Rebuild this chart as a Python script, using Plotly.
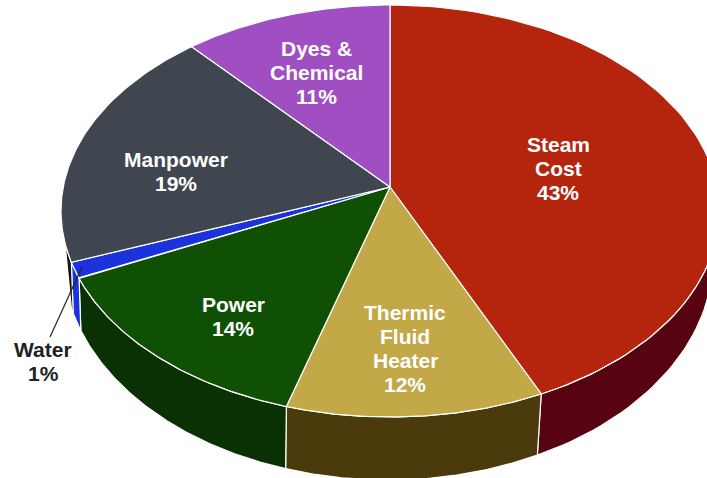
import math
import plotly.graph_objects as go

# Data
categories = ["Steam Cost", "Thermic Fluid Heater", "Power", "Water", "Manpower", "Dyes & Chemical"]
shares = [42.4, 12.7, 14.6, 1.3, 18.7, 10.3]
label_texts = [["Steam", "Cost", "43%"], ["Thermic", "Fluid", "Heater", "12%"], ["Power", "14%"],
               ["Water", "1%"], ["Manpower", "19%"], ["Dyes &", "Chemical", "11%"]]
top_colors = ["#B5240D", "#C2A847", "#105005", "#1C33DB", "#3F4650", "#9F4FC2"]
side_colors = ["#570312", "#4A3A0C", "#0A3104", "#1C33DB", "#111111", None]
label_colors = ["white", "white", "white", "#222222", "white", "white"]

# Projection of the tilted pie onto the canvas
W, H = 707, 478
APEX = (390, 187)
TOP = dict(cx=390, cy=211, rx=329, ry=206)
BOT = dict(cx=388, cy=258, rx=325, ry=222)
LABEL_POS = [(558, 168), (405, 348), (233, 316), (43, 361), (176, 171), (316, 72)]
LINE_STEP = 24
LEADER = ([82, 50], [267, 337])
BACK_TOP_LIMIT = 261   # last visible angle of the rim side
BACK_BOT_LIMIT = 257


def rim(e, t):
    r = math.radians(t)
    return e["cx"] + e["rx"] * math.sin(r), e["cy"] - e["ry"] * math.cos(r)


def arc(e, a, b, n=90):
    pts = [rim(e, a + (b - a) * i / n) for i in range(n + 1)]
    return [p[0] for p in pts], [p[1] for p in pts]


edges = [0]
for s in shares:
    edges.append(edges[-1] + s * 3.6)

fig = go.Figure()

# Side walls
for i in range(5):
    a, b = edges[i], edges[i + 1]
    b_top = min(b, BACK_TOP_LIMIT) if i == 4 else b
    b_bot = min(b, BACK_BOT_LIMIT) if i == 4 else b
    tx, ty = arc(TOP, a, b_top)
    bx, by = arc(BOT, b_bot, a)
    fig.add_trace(go.Scatter(x=tx + bx + tx[:1], y=ty + by + ty[:1], mode="lines", fill="toself",
                             fillcolor=side_colors[i], line=dict(color="white", width=1.2),
                             hoverinfo="skip", showlegend=False))

# Top faces
for i in range(6):
    tx, ty = arc(TOP, edges[i], edges[i + 1])
    fig.add_trace(go.Scatter(x=[APEX[0]] + tx + [APEX[0]], y=[APEX[1]] + ty + [APEX[1]],
                             mode="lines", fill="toself", fillcolor=top_colors[i],
                             line=dict(color="white", width=1.2),
                             name=categories[i], showlegend=False))

# Leader line of the small slice
fig.add_trace(go.Scatter(x=LEADER[0], y=LEADER[1], mode="lines",
                         line=dict(color="#222222", width=1.2), hoverinfo="skip", showlegend=False))

for (x, y), lines, col in zip(LABEL_POS, label_texts, label_colors):
    y0 = y - LINE_STEP * (len(lines) - 1) / 2
    for k, line in enumerate(lines):
        fig.add_annotation(x=x, y=y0 + k * LINE_STEP, text="<b>" + line + "</b>", showarrow=False,
                           xanchor="center", yanchor="middle",
                           font=dict(family="Liberation Sans", size=21, color=col))

fig.update_layout(width=W, height=H, margin=dict(l=0, r=0, t=0, b=0), autosize=False,
                  paper_bgcolor="white", plot_bgcolor="white",
                  xaxis=dict(range=[0, W], visible=False, fixedrange=True),
                  yaxis=dict(range=[H, 0], visible=False, fixedrange=True))
fig.write_html("out.html", config={"displayModeBar": False},
               post_script="document.body.style.margin='0';document.documentElement.style.overflow='hidden';")
